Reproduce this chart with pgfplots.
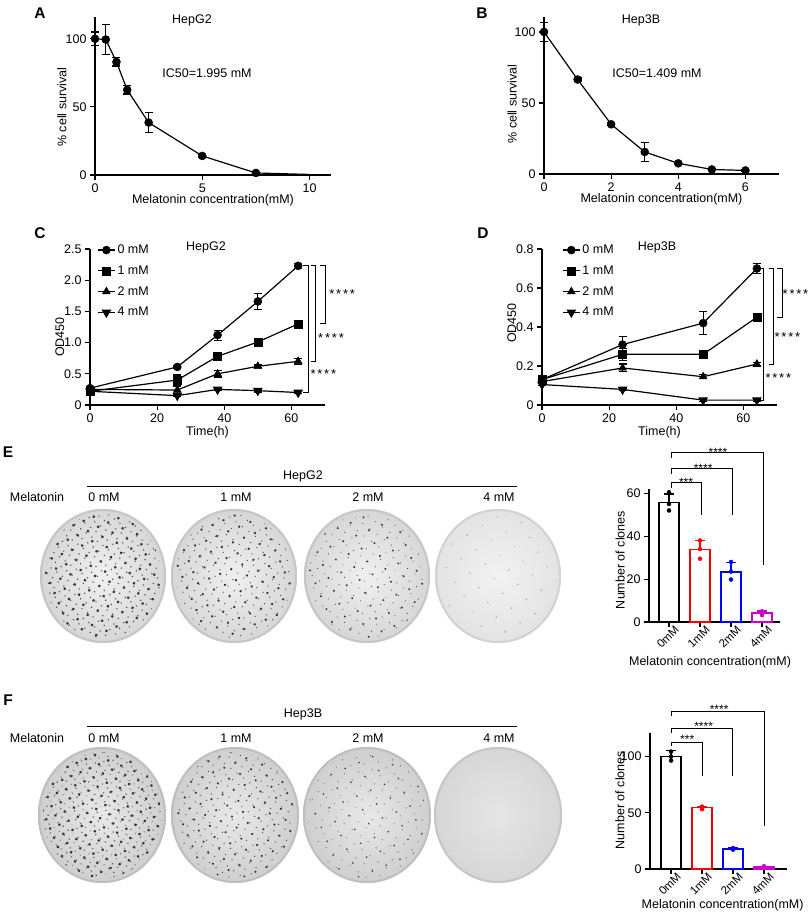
\documentclass[border=0pt]{standalone}
\usepackage{pgfplots}
\pgfplotsset{compat=1.18}
\usepackage{fontspec}
\setmainfont{Liberation Sans}
\usetikzlibrary{patterns.meta}
\definecolor{mag}{RGB}{204,0,204}
\newcommand\fs{\fontsize{12.5}{14}\selectfont}
\newcommand\fl{\fontsize{15.5}{17}\selectfont\bfseries}
\newcommand\st{\fontsize{13}{13}\selectfont *\kern1.8pt*\kern1.8pt*\kern1.8pt*}
\newcommand\sk{\fontsize{12}{12}\selectfont}
\tikzset{br/.style={line width=1pt}}
\begin{document}
\begin{tikzpicture}[x=1pt,y=1pt]
\useasboundingbox (0,0) rectangle (809,-915);
\pgfplotsset{
  gp/.style={
    scale only axis,
    axis x line*=bottom, axis y line*=left,
    axis line style={line width=1.2pt},
    tick style={line width=1.2pt, black},
    tick align=outside,
    major tick length=5pt,
    tick label style={font=\fs},
    label style={font=\fs},
    /pgf/number format/assume math mode=true,
    clip=false,
    anchor=south west,
  },
  mk/.style={line width=1.2pt, black, mark options={solid, fill=black, line width=0.5pt}},
  eb/.style={error bars/.cd, y dir=both, y explicit,
     error bar style={line width=1.2pt, black},
     error mark options={rotate=90, mark size=4pt, line width=1.2pt, black}},
  barx/.style={xtick={0,1,2,3}, xticklabels={0mM,1mM,2mM,4mM},
     x tick label style={rotate=45, anchor=north east, inner sep=0pt, xshift=5pt, yshift=-2pt, font=\fontsize{11.5}{12}\selectfont}},
}
% ---------------- A
\begin{axis}[gp, at={(95pt,-175pt)}, width=236pt, height=158pt,
  xmin=0, xmax=11, ymin=0, ymax=116,
  xtick={0,5,10}, ytick={0,50,100},
  xlabel={Melatonin concentration(mM)}, ylabel={\% cell survival},
  xlabel style={at={(axis description cs:0.5,-0.16)}, anchor=center},
  ylabel style={at={(axis description cs:-0.14,0.43)}, anchor=center}]
\addplot[mk, mark=*, mark size=4pt, mark indices={1,2,3,4,5,6,7}, eb] coordinates {
 (0,100) +- (0,5)
 (0.5,99.5) +- (0,11)
 (1,83) +- (0,3)
 (1.5,62.5) +- (0,3)
 (2.5,38.5) +- (0,7.5)
 (5,14) +- (0,1)
 (7.5,1.5) +- (0,0.5)
 (10,0.4) +- (0,0)
};
\end{axis}
% ---------------- B
\begin{axis}[gp, at={(544pt,-174pt)}, width=235pt, height=157pt,
  xmin=0, xmax=7, ymin=0, ymax=110.5,
  xtick={0,2,4,6}, ytick={0,50,100},
  xlabel={Melatonin concentration(mM)}, ylabel={\% cell survival},
  xlabel style={at={(axis description cs:0.5,-0.16)}, anchor=center},
  ylabel style={at={(axis description cs:-0.136,0.446)}, anchor=center}]
\addplot[mk, mark=*, mark size=4pt, eb] coordinates {
 (0,100) +- (0,6.5)
 (1,66.5) +- (0,1)
 (2,35) +- (0,1)
 (3,15.5) +- (0,6.8)
 (4,7.5) +- (0,0.8)
 (5,3.2) +- (0,0.5)
 (6,2.5) +- (0,0.5)
};
\end{axis}
% ---------------- C
\begin{axis}[gp, at={(90pt,-405pt)}, width=235pt, height=156pt,
  xmin=0, xmax=70, ymin=0, ymax=2.5,
  xtick={0,20,40,60}, ytick={0,0.5,1,1.5,2,2.5},
  yticklabels={0,0.5,1.0,1.5,2.0,2.5},
  xlabel={Time(h)}, ylabel={OD450},
  xlabel style={at={(axis description cs:0.5,-0.175)}, anchor=center},
  ylabel style={at={(axis description cs:-0.128,0.436)}, anchor=center},
  legend style={font=\fs, draw=none, fill=none, at={(0.03,1.04)}, anchor=north west, row sep=6.6pt, inner sep=0pt},
  legend cell align=left]
\addplot[mk, mark=*, mark size=4pt, eb] coordinates {
 (0,0.27) +- (0,0.02) (26,0.61) +- (0,0.02) (38,1.12) +- (0,0.08) (50,1.66) +- (0,0.13) (62,2.23) +- (0,0.04)};
\addplot[mk, mark=square*, mark size=4pt, eb] coordinates {
 (0,0.22) +- (0,0.02) (26,0.40) +- (0,0.08) (38,0.78) +- (0,0.03) (50,1.01) +- (0,0.02) (62,1.30) +- (0,0.05)};
\addplot[mk, mark=triangle*, mark size=4.5pt, eb] coordinates {
 (0,0.25) +- (0,0.02) (26,0.24) +- (0,0.06) (38,0.50) +- (0,0.05) (50,0.62) +- (0,0.02) (62,0.70) +- (0,0.05)};
\addplot[mk, mark=triangle*, mark size=4.5pt, mark options={rotate=180}, eb] coordinates {
 (0,0.22) +- (0,0.02) (26,0.15) +- (0,0.02) (38,0.25) +- (0,0.02) (50,0.23) +- (0,0.02) (62,0.20) +- (0,0.02)};
\legend{0 mM,1 mM,2 mM,4 mM}
\draw[br] (axis cs:63.5,2.23) -- (axis cs:65,2.23) -- (axis cs:65,0.20) -- (axis cs:63.5,0.20);
\draw[br] (axis cs:65.8,2.23) -- (axis cs:67.3,2.23) -- (axis cs:67.3,0.70) -- (axis cs:65.8,0.70);
\draw[br] (axis cs:68.5,2.23) -- (axis cs:70,2.23) -- (axis cs:70,1.30) -- (axis cs:68.5,1.30);
\node[anchor=base] at (axis cs:69.5,0.42) {\st};
\node[anchor=base] at (axis cs:71.8,1.00) {\st};
\node[anchor=base] at (axis cs:75.1,1.70) {\st};
\end{axis}
% ---------------- D
\begin{axis}[gp, at={(542pt,-405pt)}, width=235pt, height=156pt,
  xmin=0, xmax=70, ymin=0, ymax=0.8,
  xtick={0,20,40,60}, ytick={0,0.2,0.4,0.6,0.8},
  yticklabels={0,0.2,0.4,0.6,0.8},
  xlabel={Time(h)}, ylabel={OD450},
  xlabel style={at={(axis description cs:0.5,-0.175)}, anchor=center},
  ylabel style={at={(axis description cs:-0.128,0.526)}, anchor=center},
  legend style={font=\fs, draw=none, fill=none, at={(0.085,1.04)}, anchor=north west, row sep=6.6pt, inner sep=0pt},
  legend cell align=left]
\addplot[mk, mark=*, mark size=4pt, eb] coordinates {
 (0,0.13) +- (0,0.01) (24,0.31) +- (0,0.04) (48,0.42) +- (0,0.06) (64,0.70) +- (0,0.025)};
\addplot[mk, mark=square*, mark size=4pt, eb] coordinates {
 (0,0.13) +- (0,0.01) (24,0.26) +- (0,0.03) (48,0.26) +- (0,0.01) (64,0.45) +- (0,0.015)};
\addplot[mk, mark=triangle*, mark size=4.5pt, eb] coordinates {
 (0,0.12) +- (0,0.01) (24,0.19) +- (0,0.02) (48,0.145) +- (0,0.01) (64,0.21) +- (0,0.01)};
\addplot[mk, mark=triangle*, mark size=4.5pt, mark options={rotate=180}, eb] coordinates {
 (0,0.105) +- (0,0.005) (24,0.08) +- (0,0.005) (48,0.025) +- (0,0.005) (64,0.025) +- (0,0.005)};
\legend{0 mM,1 mM,2 mM,4 mM}
\draw[br] (axis cs:64.5,0.70) -- (axis cs:66,0.70) -- (axis cs:66,0.025) -- (axis cs:64.5,0.025);
\draw[br] (axis cs:67.5,0.70) -- (axis cs:69,0.70) -- (axis cs:69,0.21) -- (axis cs:67.5,0.21);
\draw[br] (axis cs:70.1,0.70) -- (axis cs:71.6,0.70) -- (axis cs:71.6,0.45) -- (axis cs:70.1,0.45);
\node[anchor=base] at (axis cs:70.4,0.115) {\st};
\node[anchor=base] at (axis cs:73.1,0.325) {\st};
\node[anchor=base] at (axis cs:75.5,0.545) {\st};
\end{axis}
% ---------------- E bars
\begin{axis}[gp, barx, at={(649pt,-622pt)}, width=131pt, height=133pt,
  xmin=-0.645, xmax=3.58, ymin=0, ymax=62,
  ytick={0,20,40,60},
  ylabel={Number of clones}, ylabel style={at={(axis description cs:-0.22,0.466)}, anchor=center},
  xlabel={Melatonin concentration(mM)}, xlabel style={at={(axis description cs:0.466,-0.305)}, anchor=center}]
\addplot[ybar, bar width=20pt, bar shift=0pt, draw=black, fill=white, line width=1.4pt,
  error bars/.cd, y dir=plus, y explicit, error bar style={line width=1.4pt, black},
  error mark options={rotate=90, mark size=5pt, line width=1.4pt, black}] coordinates {(0,55.8) +- (0,3.8)};
\addplot[ybar, bar width=20pt, bar shift=0pt, draw=red, fill=white, line width=1.4pt,
  error bars/.cd, y dir=plus, y explicit, error bar style={line width=1.4pt, red},
  error mark options={rotate=90, mark size=5pt, line width=1.4pt, red}] coordinates {(1,33.8) +- (0,4.3)};
\addplot[ybar, bar width=20pt, bar shift=0pt, draw=blue, fill=white, line width=1.4pt,
  error bars/.cd, y dir=plus, y explicit, error bar style={line width=1.4pt, blue},
  error mark options={rotate=90, mark size=5pt, line width=1.4pt, blue}] coordinates {(2,23.3) +- (0,4.5)};
\addplot[ybar, bar width=20pt, bar shift=0pt, draw=mag, fill=white, line width=1.4pt,
  error bars/.cd, y dir=plus, y explicit, error bar style={line width=1.4pt, mag},
  error mark options={rotate=90, mark size=5pt, line width=1.4pt, mag}] coordinates {(3,4.2) +- (0,1.0)};
\addplot[only marks, mark=*, mark size=2pt, black] coordinates {(0,60.5) (0,55) (0,52)};
\addplot[only marks, mark=*, mark size=2pt, red] coordinates {(1,38) (1,34) (1,29.5)};
\addplot[only marks, mark=*, mark size=2pt, blue] coordinates {(2,28) (2,23.5) (2,19.8)};
\addplot[only marks, mark=*, mark size=2pt, mag] coordinates {(3,5) (3,4) (3,3.2)};
\draw[br] (axis cs:0.07,62.5) -- (axis cs:0.07,65) -- (axis cs:1.05,65) -- (axis cs:1.05,50);
\draw[br] (axis cs:0.07,69) -- (axis cs:0.07,71.6) -- (axis cs:2.05,71.6) -- (axis cs:2.05,50);
\draw[br] (axis cs:0.07,76.5) -- (axis cs:0.07,79) -- (axis cs:3.05,79) -- (axis cs:3.05,26.5);
\node[anchor=base, inner sep=0pt] at (axis cs:0.55,63.2) {\sk ***};
\node[anchor=base, inner sep=0pt] at (axis cs:1.1,69.8) {\sk ****};
\node[anchor=base, inner sep=0pt] at (axis cs:1.58,77.2) {\sk ****};
\end{axis}
% ---------------- F bars
\begin{axis}[gp, barx, at={(650pt,-869pt)}, width=137pt, height=136pt,
  xmin=-0.68, xmax=3.74, ymin=0, ymax=121,
  ytick={0,50,100},
  ylabel={Number of clones}, ylabel style={at={(axis description cs:-0.22,0.507)}, anchor=center},
  xlabel={Melatonin concentration(mM)}, xlabel style={at={(axis description cs:0.53,-0.27)}, anchor=center}]
\addplot[ybar, bar width=20pt, bar shift=0pt, draw=black, fill=white, line width=1.4pt,
  error bars/.cd, y dir=plus, y explicit, error bar style={line width=1.4pt, black},
  error mark options={rotate=90, mark size=5pt, line width=1.4pt, black}] coordinates {(0,100.3) +- (0,5)};
\addplot[ybar, bar width=20pt, bar shift=0pt, draw=red, fill=white, line width=1.4pt,
  error bars/.cd, y dir=plus, y explicit, error bar style={line width=1.4pt, red},
  error mark options={rotate=90, mark size=5pt, line width=1.4pt, red}] coordinates {(1,54.5) +- (0,1.2)};
\addplot[ybar, bar width=20pt, bar shift=0pt, draw=blue, fill=white, line width=1.4pt,
  error bars/.cd, y dir=plus, y explicit, error bar style={line width=1.4pt, blue},
  error mark options={rotate=90, mark size=5pt, line width=1.4pt, blue}] coordinates {(2,17.8) +- (0,1.2)};
\addplot[ybar, bar width=20pt, bar shift=0pt, draw=mag, fill=white, line width=1.4pt,
  error bars/.cd, y dir=plus, y explicit, error bar style={line width=1.4pt, mag},
  error mark options={rotate=90, mark size=5pt, line width=1.4pt, mag}] coordinates {(3,1.9) +- (0,0.6)};
\addplot[only marks, mark=*, mark size=2pt, black] coordinates {(0,104.5) (0,96.5) (0,100)};
\addplot[only marks, mark=*, mark size=2pt, red] coordinates {(1,55.5) (1,54.2) (1,53.2)};
\addplot[only marks, mark=*, mark size=2pt, blue] coordinates {(2,18.6) (2,17.2) (2,17.6)};
\addplot[only marks, mark=*, mark size=2pt, mag] coordinates {(3,2.5) (3,1.6) (3,1.6)};
\draw[br] (axis cs:0.02,109) -- (axis cs:0.02,113) -- (axis cs:1.0,113) -- (axis cs:1.0,83);
\draw[br] (axis cs:0.02,121) -- (axis cs:0.02,125) -- (axis cs:1.97,125) -- (axis cs:1.97,83);
\draw[br] (axis cs:0.02,136) -- (axis cs:0.02,140) -- (axis cs:3.0,140) -- (axis cs:3.0,38);
\node[anchor=base, inner sep=0pt] at (axis cs:0.52,111.5) {\sk ***};
\node[anchor=base, inner sep=0pt] at (axis cs:1.05,123.5) {\sk ****};
\node[anchor=base, inner sep=0pt] at (axis cs:1.55,138.5) {\sk ****};
\end{axis}
% ---------------- texts
\node[font=\fl] at (40,-13) {A};
\node[font=\fl] at (482,-13) {B};
\node[font=\fl] at (40,-233) {C};
\node[font=\fl] at (483,-233) {D};
\node[font=\fl] at (8,-452) {E};
\node[font=\fl] at (8,-700) {F};
\node[font=\fs] at (192,-20) {HepG2};
\node[font=\fs] at (207,-73) {IC50=1.995 mM};
\node[font=\fs] at (641,-20) {Hep3B};
\node[font=\fs] at (657,-73) {IC50=1.409 mM};
\node[font=\fs] at (206,-247) {HepG2};
\node[font=\fs] at (657,-247) {Hep3B};
% ---------------- plates E
\node[font=\fs] at (303,-476) {HepG2};
\draw[line width=1pt] (87,-486) -- (517,-486);
\node[font=\fs] at (37,-497) {Melatonin};
\node[font=\fs] at (104,-497) {0 mM};
\node[font=\fs] at (236,-497) {1 mM};
\node[font=\fs] at (368,-497) {2 mM};
\node[font=\fs] at (499,-497) {4 mM};
\foreach \cx/\da/\ra/\db/\rb in {103/11/1.5/7/0.8, 234/12/1.3/8/0.7, 367/14/1.1/9/0.6} {
  \shade[inner color=gray!12, outer color=gray!32] (\cx,-576) ellipse [x radius=63pt, y radius=67pt];
  \fill[pattern={Dots[distance=\da pt, radius=\ra pt, angle=23]}, pattern color=black!80] (\cx,-576) ellipse [x radius=58pt, y radius=62pt];
  \fill[pattern={Dots[distance=\db pt, radius=\rb pt, angle=-37]}, pattern color=black!70] (\cx,-576) ellipse [x radius=58pt, y radius=62pt];
  \draw[gray!45, line width=2pt] (\cx,-576) ellipse [x radius=62pt, y radius=66pt];
}
\shade[inner color=gray!10, outer color=gray!22] (498,-576) ellipse [x radius=63pt, y radius=67pt];
\fill[pattern={Dots[distance=17pt, radius=0.6pt, angle=31]}, pattern color=black!60] (498,-576) ellipse [x radius=58pt, y radius=62pt];
\draw[gray!35, line width=2pt] (498,-576) ellipse [x radius=62pt, y radius=66pt];
% ---------------- plates F
\node[font=\fs] at (303,-714) {Hep3B};
\draw[line width=1pt] (87,-726) -- (517,-726);
\node[font=\fs] at (37,-738) {Melatonin};
\node[font=\fs] at (104,-738) {0 mM};
\node[font=\fs] at (236,-738) {1 mM};
\node[font=\fs] at (368,-738) {2 mM};
\node[font=\fs] at (499,-738) {4 mM};
\foreach \cx/\da/\ra/\db/\rb in {102/10/1.5/6.5/0.8, 235/12/1.2/8/0.7, 367/15/0.9/10/0.6} {
  \shade[inner color=gray!18, outer color=gray!38] (\cx,-815) ellipse [x radius=64pt, y radius=68pt];
  \fill[pattern={Dots[distance=\da pt, radius=\ra pt, angle=23]}, pattern color=black!80] (\cx,-815) ellipse [x radius=59pt, y radius=63pt];
  \fill[pattern={Dots[distance=\db pt, radius=\rb pt, angle=-37]}, pattern color=black!70] (\cx,-815) ellipse [x radius=59pt, y radius=63pt];
  \draw[gray!50, line width=2pt] (\cx,-815) ellipse [x radius=63pt, y radius=67pt];
}
\shade[inner color=gray!20, outer color=gray!32] (498,-815) ellipse [x radius=64pt, y radius=68pt];
\draw[gray!45, line width=2pt] (498,-815) ellipse [x radius=63pt, y radius=67pt];
\end{tikzpicture}
\end{document}
